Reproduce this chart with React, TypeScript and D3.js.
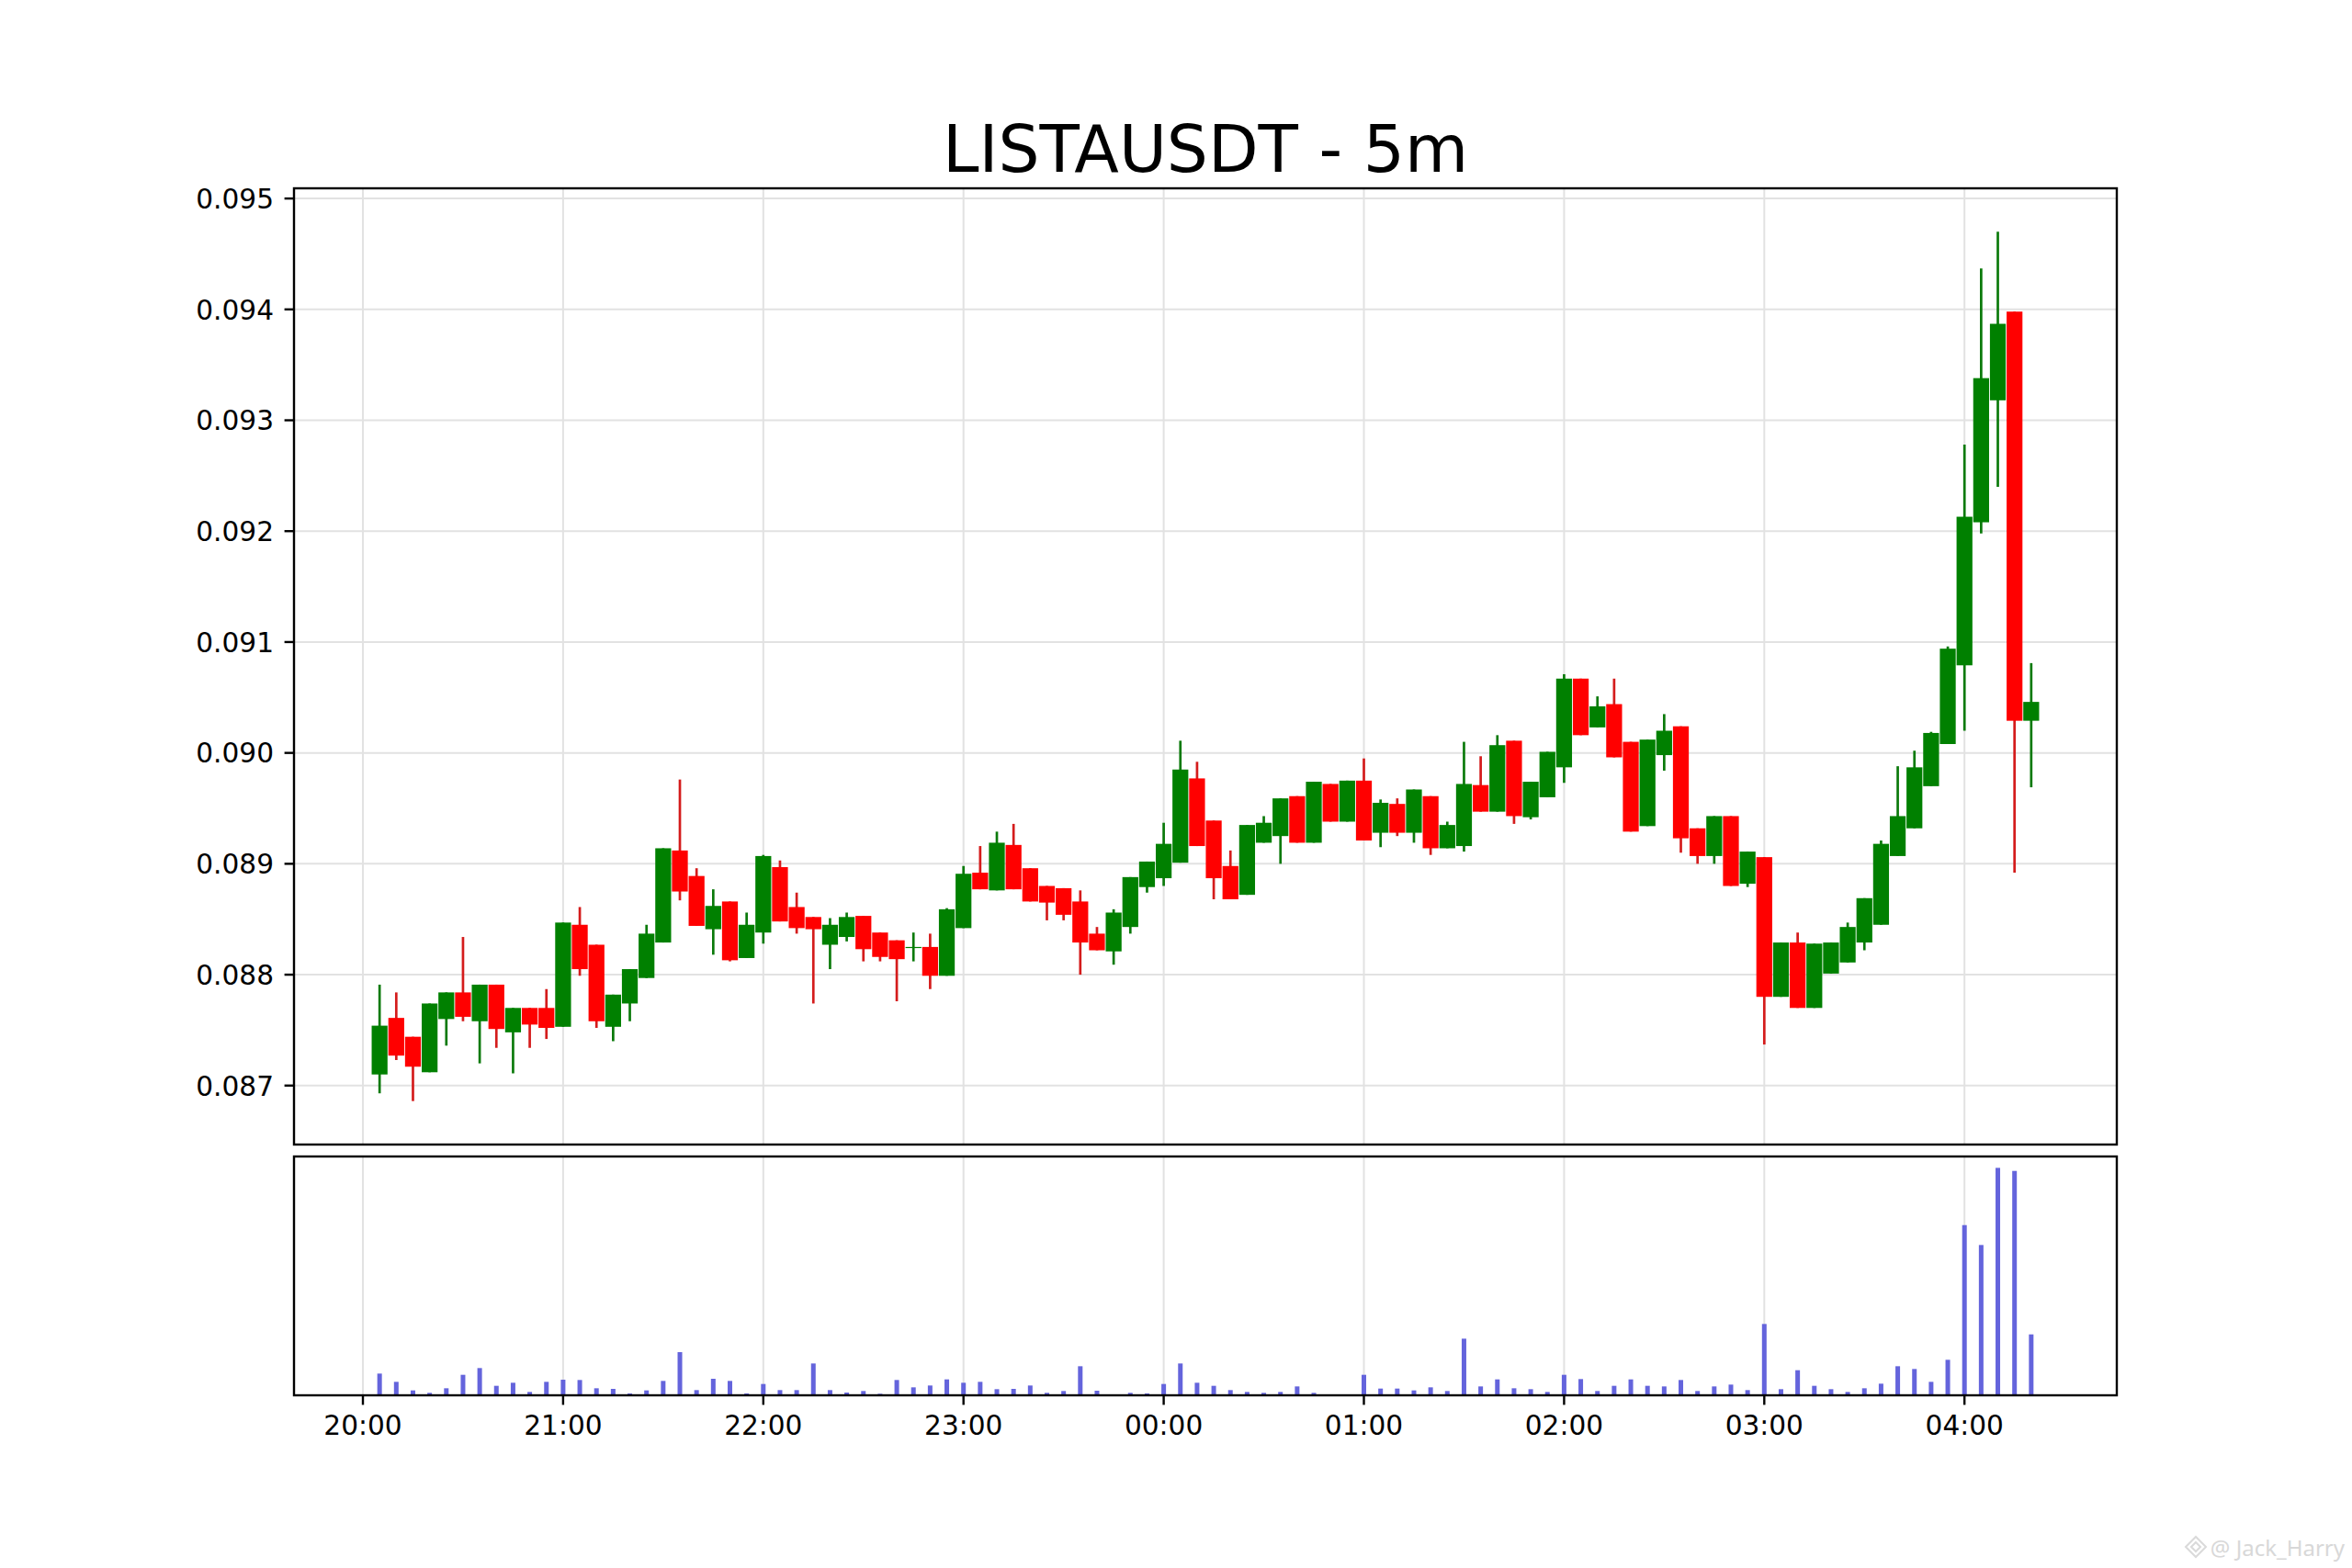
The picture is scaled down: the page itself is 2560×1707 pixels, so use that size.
import * as React from "react";
import * as d3 from "d3";

// LISTAUSDT 5m candles, first candle 20:05, one every 5 minutes
const title = "LISTAUSDT - 5m";
const firstCandle = new Date(2024, 6, 1, 20, 5);
const stepMinutes = 5;

const opens = [
  0.0871, 0.08761, 0.08744, 0.08712, 0.0876, 0.08784, 0.08758, 0.08791, 0.08748, 0.0877,
  0.0877, 0.08753, 0.08845, 0.08827, 0.08753, 0.08774, 0.08797, 0.08829, 0.08912, 0.08889,
  0.08841, 0.08866, 0.08815, 0.08838, 0.08897, 0.08861, 0.08852, 0.08827, 0.08834, 0.08853,
  0.08838, 0.08831, 0.08825, 0.08825, 0.08799, 0.08842, 0.08892, 0.08876, 0.08917, 0.08896,
  0.0888, 0.08878, 0.08866, 0.08837, 0.08821, 0.08843, 0.08879, 0.08887, 0.08901, 0.08977,
  0.08939, 0.08898, 0.08872, 0.08919, 0.08925, 0.08961, 0.08919, 0.08972, 0.08938, 0.08975,
  0.08928, 0.08954, 0.08928, 0.08961, 0.08914, 0.08916, 0.08971, 0.08947, 0.09011, 0.08942,
  0.0896, 0.08987, 0.09067, 0.09023, 0.09044, 0.0901, 0.08934, 0.08998, 0.09024, 0.08932,
  0.08907, 0.08943, 0.08882, 0.08906, 0.0878, 0.08829, 0.0877, 0.08801, 0.08811, 0.08829,
  0.08845, 0.08907, 0.08932, 0.0897, 0.09008, 0.09079, 0.09208, 0.09318, 0.09398, 0.09029,
];
const highs = [
  0.08791, 0.08784, 0.08744, 0.08774, 0.08784, 0.08834, 0.08791, 0.08791, 0.0877, 0.0877,
  0.08787, 0.08847, 0.08861, 0.08827, 0.08782, 0.08805, 0.08845, 0.08914, 0.08976, 0.08896,
  0.08877, 0.08866, 0.08856, 0.08908, 0.08903, 0.08874, 0.08852, 0.08851, 0.08856, 0.08853,
  0.08838, 0.08831, 0.08838, 0.08837, 0.0886, 0.08898, 0.08916, 0.08929, 0.08936, 0.08896,
  0.0888, 0.08878, 0.08876, 0.08843, 0.08859, 0.08888, 0.08902, 0.08937, 0.09011, 0.08992,
  0.08939, 0.08912, 0.08935, 0.08943, 0.08959, 0.08961, 0.08974, 0.08972, 0.08975, 0.08995,
  0.08958, 0.08959, 0.08967, 0.08961, 0.08938, 0.0901, 0.08997, 0.09016, 0.09011, 0.08974,
  0.09001, 0.09071, 0.09067, 0.09051, 0.09067, 0.0901, 0.09012, 0.09035, 0.09024, 0.08932,
  0.08943, 0.08943, 0.08911, 0.08906, 0.08829, 0.08838, 0.08828, 0.08829, 0.08847, 0.08869,
  0.08921, 0.08988, 0.09002, 0.09019, 0.09096, 0.09278, 0.09437, 0.0947, 0.09398, 0.09081,
];
const lows = [
  0.08693, 0.08723, 0.08686, 0.08712, 0.08736, 0.08758, 0.0872, 0.08734, 0.08711, 0.08734,
  0.08742, 0.08753, 0.08799, 0.08752, 0.0874, 0.08758, 0.08797, 0.08829, 0.08867, 0.08844,
  0.08818, 0.08812, 0.08815, 0.08828, 0.08848, 0.08837, 0.08774, 0.08805, 0.0883, 0.08812,
  0.08812, 0.08776, 0.08812, 0.08787, 0.08799, 0.08842, 0.08877, 0.08876, 0.08877, 0.08866,
  0.08849, 0.08849, 0.088, 0.08822, 0.08809, 0.08837, 0.08874, 0.0888, 0.08901, 0.08916,
  0.08868, 0.08868, 0.08872, 0.08919, 0.089, 0.08919, 0.08919, 0.08938, 0.08938, 0.08921,
  0.08915, 0.08925, 0.08919, 0.08908, 0.08914, 0.08911, 0.08947, 0.08947, 0.08936, 0.0894,
  0.0896, 0.08973, 0.09016, 0.09023, 0.08996, 0.08929, 0.08934, 0.08984, 0.0891, 0.089,
  0.089, 0.0888, 0.08879, 0.08737, 0.0878, 0.0877, 0.0877, 0.08801, 0.08811, 0.08822,
  0.08845, 0.08907, 0.08932, 0.0897, 0.09008, 0.0902, 0.09198, 0.0924, 0.08892, 0.08969,
];
const closes = [
  0.08754, 0.08727, 0.08717, 0.08774, 0.08784, 0.08762, 0.08791, 0.08751, 0.0877, 0.08755,
  0.08752, 0.08847, 0.08805, 0.08758, 0.08782, 0.08805, 0.08837, 0.08914, 0.08875, 0.08844,
  0.08862, 0.08813, 0.08845, 0.08907, 0.08848, 0.08842, 0.08841, 0.08845, 0.08852, 0.08823,
  0.08816, 0.08814, 0.08825, 0.08799, 0.08859, 0.08891, 0.08877, 0.08919, 0.08877, 0.08866,
  0.08865, 0.08854, 0.08829, 0.08822, 0.08856, 0.08888, 0.08902, 0.08918, 0.08985, 0.08916,
  0.08887, 0.08868, 0.08935, 0.08937, 0.08959, 0.08919, 0.08974, 0.08938, 0.08975, 0.08921,
  0.08955, 0.08928, 0.08967, 0.08914, 0.08935, 0.08972, 0.08947, 0.09007, 0.08943, 0.08974,
  0.09001, 0.09067, 0.09016, 0.09042, 0.08996, 0.08929, 0.09012, 0.0902, 0.08923, 0.08907,
  0.08943, 0.0888, 0.08911, 0.0878, 0.08829, 0.0877, 0.08828, 0.08829, 0.08843, 0.08869,
  0.08918, 0.08943, 0.08987, 0.09018, 0.09094, 0.09213, 0.09338, 0.09387, 0.09029, 0.09046,
];
// volume in thousands (no scale is shown on the chart)
const volumes = [
  71, 44, 16, 8, 23, 67, 89, 31, 41, 11,
  44, 51, 50, 23, 21, 6, 16, 47, 141, 17,
  54, 47, 6, 37, 17, 17, 104, 17, 9, 14,
  5, 50, 26, 32, 52, 41, 44, 20, 21, 32,
  8, 14, 95, 15, 2, 8, 6, 37, 104, 41,
  31, 17, 11, 8, 11, 29, 8, 2, 2, 67,
  22, 22, 16, 26, 14, 185, 29, 52, 23, 20,
  11, 67, 53, 14, 31, 52, 31, 29, 50, 14,
  29, 35, 17, 233, 20, 82, 31, 20, 11, 23,
  38, 95, 86, 44, 116, 556, 491, 743, 733, 199,
];
const priceTicks = [0.087, 0.088, 0.089, 0.09, 0.091, 0.092, 0.093, 0.094, 0.095];

const W = 2560;
const H = 1707;
const left = 320;
const right = 2304;
const priceTop = 205;
const priceBottom = 1246;
const volTop = 1259;
const volBottom = 1519;
const font = "DejaVu Sans, sans-serif";
const up = "#008000";
const down = "#ff0000";
const upWick = "#0b7a0b";
const downWick = "#d41c1c";
const gridColor = "#e2e2e2";

function drawChart(svgRef: React.RefObject<SVGSVGElement>) {
  const svg = d3.select(svgRef.current);
  svg.selectAll("*").remove();
  svg.attr("width", W).attr("height", H).style("background", "#ffffff").style("display", "block");

  const minute = 60000;
  const times = opens.map((_, i) => new Date(firstCandle.getTime() + i * stepMinutes * minute));

  // matplotlib-like autoscale: 5% margins
  const halfBar = 0.82 * minute;
  const t0 = times[0].getTime() - halfBar;
  const t1 = times[times.length - 1].getTime() + halfBar;
  const tPad = (t1 - t0) * 0.05;
  const x = d3
    .scaleTime()
    .domain([new Date(t0 - tPad), new Date(t1 + tPad)])
    .range([left, right]);

  const pLo = d3.min(lows)!;
  const pHi = d3.max(highs)!;
  const pPad = (pHi - pLo) * 0.05;
  const y = d3.scaleLinear().domain([pLo - pPad, pHi + pPad]).range([priceBottom, priceTop]);

  const v = d3
    .scaleLinear()
    .domain([0, d3.max(volumes)! * 1.05])
    .range([volBottom, volTop]);

  const hourTicks = x.ticks(d3.timeHour.every(1)!);
  const fmt = d3.timeFormat("%H:%M");

  // title
  svg
    .append("text")
    .attr("x", (left + right) / 2)
    .attr("y", 187)
    .attr("text-anchor", "middle")
    .attr("font-family", font)
    .attr("font-size", 71)
    .attr("fill", "#000")
    .text(title);

  // price panel grid
  const price = svg.append("g");
  price
    .selectAll(".hgrid")
    .data(priceTicks)
    .join("line")
    .attr("x1", left)
    .attr("x2", right)
    .attr("y1", (d) => y(d))
    .attr("y2", (d) => y(d))
    .attr("stroke", gridColor)
    .attr("stroke-width", 2);
  price
    .selectAll(".vgrid")
    .data(hourTicks)
    .join("line")
    .attr("x1", (d) => x(d))
    .attr("x2", (d) => x(d))
    .attr("y1", priceTop)
    .attr("y2", priceBottom)
    .attr("stroke", gridColor)
    .attr("stroke-width", 2);

  // candles
  const idx = d3.range(opens.length);
  const bodyW = x(new Date(t0 + 4.75 * minute)) - x(new Date(t0));
  price
    .selectAll(".wick")
    .data(idx)
    .join("line")
    .attr("x1", (i) => x(times[i]))
    .attr("x2", (i) => x(times[i]))
    .attr("y1", (i) => y(highs[i]))
    .attr("y2", (i) => y(lows[i]))
    .attr("stroke", (i) => (closes[i] >= opens[i] ? upWick : downWick))
    .attr("stroke-width", 2.7);
  price
    .selectAll(".body")
    .data(idx)
    .join("rect")
    .attr("x", (i) => x(times[i]) - bodyW / 2)
    .attr("y", (i) => y(Math.max(opens[i], closes[i])))
    .attr("width", bodyW)
    .attr("height", (i) => Math.max(1.2, Math.abs(y(opens[i]) - y(closes[i]))))
    .attr("fill", (i) => (closes[i] >= opens[i] ? up : down));

  // price frame + y axis
  price
    .append("rect")
    .attr("x", left)
    .attr("y", priceTop)
    .attr("width", right - left)
    .attr("height", priceBottom - priceTop)
    .attr("fill", "none")
    .attr("stroke", "#000")
    .attr("stroke-width", 2.4);
  const yt = price.selectAll(".ytick").data(priceTicks).join("g");
  yt.append("line")
    .attr("x1", left - 10.4)
    .attr("x2", left)
    .attr("y1", (d) => y(d))
    .attr("y2", (d) => y(d))
    .attr("stroke", "#000")
    .attr("stroke-width", 2.4);
  yt.append("text")
    .attr("x", left - 22)
    .attr("y", (d) => y(d) + 10.8)
    .attr("text-anchor", "end")
    .attr("font-family", font)
    .attr("font-size", 29.6)
    .attr("fill", "#000")
    .text((d) => d3.format(".3f")(d));

  // volume panel
  const vol = svg.append("g");
  vol
    .selectAll(".vgrid")
    .data(hourTicks)
    .join("line")
    .attr("x1", (d) => x(d))
    .attr("x2", (d) => x(d))
    .attr("y1", volTop)
    .attr("y2", volBottom)
    .attr("stroke", gridColor)
    .attr("stroke-width", 2);
  const barW = 5;
  vol
    .selectAll(".bar")
    .data(idx)
    .join("rect")
    .attr("x", (i) => x(times[i]) - barW / 2)
    .attr("y", (i) => v(volumes[i]))
    .attr("width", barW)
    .attr("height", (i) => volBottom - v(volumes[i]))
    .attr("fill", "#6464dc");
  vol
    .append("rect")
    .attr("x", left)
    .attr("y", volTop)
    .attr("width", right - left)
    .attr("height", volBottom - volTop)
    .attr("fill", "none")
    .attr("stroke", "#000")
    .attr("stroke-width", 2.4);
  const xt = vol.selectAll(".xtick").data(hourTicks).join("g");
  xt.append("line")
    .attr("x1", (d) => x(d))
    .attr("x2", (d) => x(d))
    .attr("y1", volBottom)
    .attr("y2", volBottom + 10.4)
    .attr("stroke", "#000")
    .attr("stroke-width", 2.4);
  xt.append("text")
    .attr("x", (d) => x(d))
    .attr("y", volBottom + 43)
    .attr("text-anchor", "middle")
    .attr("font-family", font)
    .attr("font-size", 29.6)
    .attr("fill", "#000")
    .text((d) => fmt(d));

  // watermark
  const wm = svg.append("g").attr("opacity", 0.9);
  wm.append("path")
    .attr("d", "M2390,1673 L2401,1684 L2390,1695 L2379,1684 Z M2390,1679 L2395,1684 L2390,1689 L2385,1684 Z")
    .attr("fill", "none")
    .attr("stroke", "#d6d6d6")
    .attr("stroke-width", 2);
  wm.append("text")
    .attr("x", 2552)
    .attr("y", 1694)
    .attr("text-anchor", "end")
    .attr("font-family", "Noto Sans, sans-serif")
    .attr("font-size", 24)
    .attr("fill", "#d4d4d4")
    .text("@ Jack_Harry");
}

const App: React.FunctionComponent = () => {
  const svg = React.useRef<SVGSVGElement>(null);
  React.useEffect(() => {
    drawChart(svg);
  }, [svg]);

  return (
    <div style={{ position: "absolute", left: 0, top: 0, background: "#fff" }}>
      <svg ref={svg} />
    </div>
  );
};

export default App;
